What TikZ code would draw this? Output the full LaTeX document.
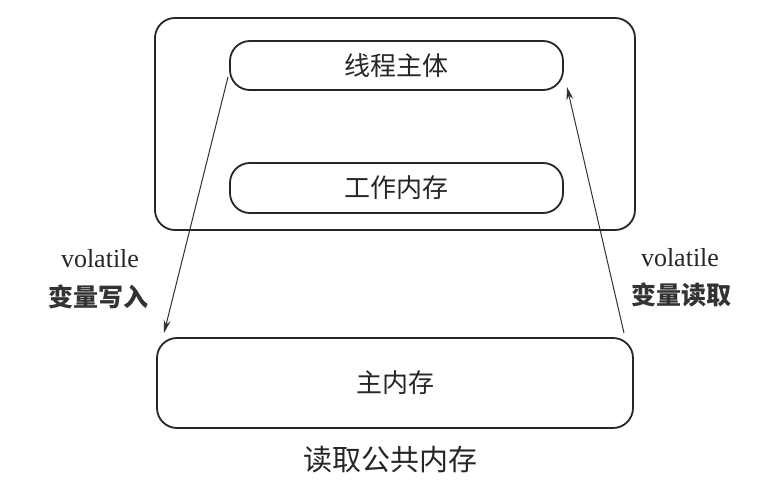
\documentclass[tikz,border=0pt]{standalone}
\usepackage{fontspec}
\setmainfont{Liberation Serif}
\newfontfamily\cjk{Noto Sans CJK SC}
\usetikzlibrary{arrows.meta}
\begin{document}
\begin{tikzpicture}[x=1pt,y=-1pt,
  box/.style={draw=black!85,line width=1.8pt,rounded corners=20pt,inner sep=0pt},
  lbl/.style={font=\cjk\fontsize{26}{30}\selectfont,text=black!85},
  vol/.style={font=\fontsize{26}{30}\selectfont,text=black!85},
  side/.style={font=\cjk\bfseries\fontsize{25}{30}\selectfont,text=black!80},
  arr/.style={draw=black!80,line width=1pt,-{Stealth[length=13pt,width=7pt]}}]
\useasboundingbox (0,0) rectangle (782,495);
\node[box,minimum width=480pt,minimum height=212pt] (outer) at (395,124) {};
\node[box,minimum width=333pt,minimum height=49pt,lbl] (body) at (396.5,65.5) {线程主体};
\node[box,minimum width=333pt,minimum height=50pt,lbl] (work) at (396.5,188) {工作内存};
\node[box,minimum width=476pt,minimum height=90pt,lbl] (mem) at (395,383) {主内存};
\node[font=\cjk\fontsize{29}{32}\selectfont,text=black!85] (cap) at (390,460) {读取公共内存};
\node[vol] (wv) at (100,259) {volatile};
\node[side] (wc) at (98,297) {变量写入};
\node[vol] (rv) at (680,258) {volatile};
\node[side] (rc) at (681,295) {变量读取};
\coordinate (ws) at (228,77);
\coordinate (we) at (164,333);
\coordinate (rs) at (624,333);
\coordinate (re) at (567,87);
\draw[arr] (ws) -- (we);
\draw[arr] (rs) -- (re);
\end{tikzpicture}
\end{document}
